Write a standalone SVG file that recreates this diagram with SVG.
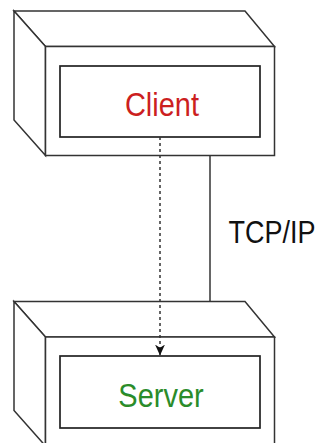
<svg xmlns="http://www.w3.org/2000/svg" width="324" height="443" viewBox="0 0 324 443">
  <style>
    .edge { fill: none; stroke: #333; stroke-width: 1.5; }
    .face { fill: #fff; stroke: #333; stroke-width: 1.5; }
    .inner { fill: #fff; stroke: #222; stroke-width: 1.7; }
    .lbl { font-family: "Liberation Sans", Arial, sans-serif; text-anchor: middle; }
  </style>
  <defs>
    <marker id="arrow" viewBox="0 0 10 10" refX="9.5" refY="5" markerWidth="11" markerHeight="11" markerUnits="userSpaceOnUse" orient="auto">
      <path d="M0,0.5 L10,5 L0,9.5 L3,5 Z" fill="#111"/>
    </marker>
  </defs>

  <!-- connectors -->
  <g id="connectors">
    <line class="edge" x1="210" y1="155" x2="210" y2="301.5"/>
  </g>

  <!-- client node: 3D box with inner component -->
  <g id="client">
    <path class="face" d="M14,11 L245,11 L274.5,46.5 L45.5,46.5 Z"/>
    <path class="face" d="M14,11 L45.5,46.5 L45.5,155.5 L14,120 Z"/>
    <rect class="face" x="45.5" y="46.5" width="229" height="109"/>
    <rect class="inner" x="60" y="66" width="200" height="71"/>
    <text class="lbl" x="162" y="116" font-size="29" fill="#cc1f1f" transform="translate(0,116) scale(1,1.15) translate(0,-116)">Client</text>
  </g>

  <!-- server node: 3D box with inner component -->
  <g id="server">
    <path class="face" d="M14,301.5 L245,301.5 L274.5,337 L45.5,337 Z"/>
    <path class="face" d="M14,301.5 L45.5,337 L45.5,446 L14,410.5 Z"/>
    <rect class="face" x="45.5" y="337" width="229" height="109"/>
    <rect class="inner" x="60" y="356" width="200" height="72"/>
    <text class="lbl" x="161" y="407" font-size="29" fill="#2a8c2a" transform="translate(0,407) scale(1,1.15) translate(0,-407)">Server</text>
  </g>

  <!-- dependency arrow drawn over the boxes -->
  <g id="connectors-dashed">
    <line class="edge" x1="160" y1="137" x2="160" y2="355" stroke="#222" stroke-width="2" stroke-dasharray="3 3" marker-end="url(#arrow)"/>
  </g>

  <text class="lbl" x="272" y="243" font-size="27" fill="#111" transform="translate(0,243) scale(1,1.15) translate(0,-243)">TCP/IP</text>
</svg>
